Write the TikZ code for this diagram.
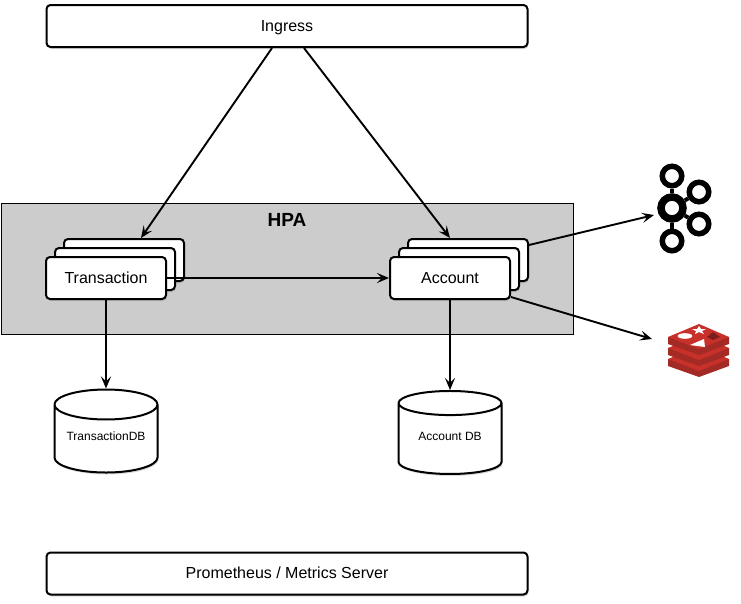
\documentclass[tikz,border=0pt]{standalone}
\usepackage{fontspec}
\setmainfont{Liberation Sans}
\usetikzlibrary{arrows.meta,shapes.geometric,shadows}
\definecolor{hpagray}{HTML}{CCCCCC}
\definecolor{redisred}{HTML}{C8302A}
\definecolor{redisdark}{HTML}{A32A25}
\definecolor{redismaroon}{HTML}{7A1F1B}
\tikzset{
  softshadow/.style={drop shadow={shadow xshift=1pt,shadow yshift=-2pt,opacity=.3}},
  wide/.style={draw,line width=2pt,rounded corners=4pt,fill=white,softshadow,
    minimum width=481pt,minimum height=42pt,text height=12.5pt,text depth=2.5pt,font=\fontsize{16}{18}\selectfont},
  pod/.style={draw,line width=2pt,rounded corners=4pt,fill=white,softshadow,
    minimum width=120pt,minimum height=42pt,text height=12.5pt,text depth=2.5pt,font=\fontsize{16}{18}\selectfont},
  store/.style={draw,line width=2pt,cylinder,shape border rotate=90,aspect=0.38,fill=white,softshadow,
    minimum width=103pt,minimum height=83pt,inner sep=0pt,text depth=6pt,font=\fontsize{12}{14}\selectfont},
  ring/.style={circle,draw=black,line width=#1,inner sep=0pt},
  link/.style={line width=1.9pt,-{Stealth[length=12pt,width=10pt,inset=5pt]}}
}
\begin{document}
\begin{tikzpicture}[x=1pt,y=-1pt]
\useasboundingbox (0,0) rectangle (741,603);

\node[draw=black,line width=.7pt,fill=hpagray,minimum width=572pt,minimum height=131pt] (hpa) at (287,268.5) {};
\node[font=\fontsize{19}{22}\selectfont\bfseries] (hpatitle) at (287,220) {HPA};

\node[wide] (ingress) at (287,26) {Ingress};
\node[wide] (prometheus) at (287,573.5) {Prometheus / Metrics Server};

\foreach \n/\x/\t in {transaction/106/Transaction,account/450/Account} {
  \node[pod] (\n-back) at (\x+18,260) {};
  \node[pod] (\n-mid) at (\x+9,269) {};
  \node[pod] (\n) at (\x,278) {\t};
}

\node[store] (transactiondb) at (106,439) {TransactionDB};
\node[store] (accountdb) at (450,439) {Account DB};

% kafka logo
\node[ring=7.5pt,minimum size=22pt] (kafka) at (672,208) {};
\foreach \n/\x/\y in {a/672/176,b/699/192,c/699/224,d/672/241}
  \node[ring=5.5pt,minimum size=19.5pt] (kafka-\n) at (\x,\y) {};
\foreach \n in {a,b,c,d}
  \draw[line width=4pt] (kafka) -- (kafka-\n);
\coordinate (kafkain) at (654,215);

% redis logo
\foreach \d in {22,11,0} {
  \fill[redisdark] (668,337+\d) -- (668,344+\d) -- (699,355+\d) -- (729,344+\d) -- (729,337+\d) -- cycle;
  \fill[redisred] (668,337+\d) -- (699,324+\d) -- (729,337+\d) -- (699,349+\d) -- cycle;
}
\fill[white] (685,336) ellipse (7.3pt and 2.8pt);
\fill[white] (699,326) -- (701,329) -- (706,329) -- (702,331) -- (704,334) -- (699,332) -- (695,334) -- (696,331) -- (692,329) -- (697,329) -- cycle;
\fill[white] (690,345) -- (704,339) -- (705,347) -- cycle;
\fill[redismaroon] (707,337) -- (713,332) -- (720,337) -- (713,340) -- cycle;
\coordinate (redisin) at (652,339);

\draw[link] ([xshift=-15pt]ingress.south) -- ([xshift=17pt]transaction-back.north);
\draw[link] ([xshift=17pt]ingress.south) -- ([xshift=-18pt]account-back.north);
\draw[link] (transaction) -- (account);
\draw[link] (transaction) -- (transactiondb);
\draw[link] (account) -- (accountdb);
\draw[link] ([yshift=15pt]account-back.east) -- (kafkain);
\draw[link] ([yshift=3pt]account.south east) -- (redisin);
\end{tikzpicture}
\end{document}
